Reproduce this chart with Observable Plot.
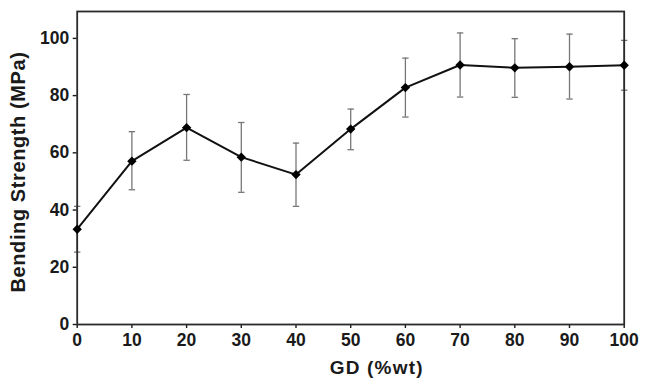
<!DOCTYPE html>
<html><head><meta charset="utf-8">
<script src="https://cdn.jsdelivr.net/npm/d3@7"></script>
<script src="https://cdn.jsdelivr.net/npm/@observablehq/plot@0.6"></script>
<style>
body{margin:0;background:#fff}
#chart svg{display:block;overflow:visible}
</style>
</head><body><div id="chart"></div>
<script>
const gdContent = [0, 10, 20, 30, 40, 50, 60, 70, 80, 90, 100];
const strength = [33.3, 57.1, 68.8, 58.5, 52.4, 68.3, 82.8, 90.7, 89.7, 90.1, 90.6];
const errLow = [25.3, 47.1, 57.4, 46.2, 41.3, 61.1, 72.5, 79.5, 79.4, 78.8, 81.9];
const errHigh = [41.3, 67.4, 80.4, 70.6, 63.4, 75.3, 93.1, 101.9, 99.9, 101.5, 99.3];
const xTicks = [0, 10, 20, 30, 40, 50, 60, 70, 80, 90, 100];
const yTicks = [0, 20, 40, 60, 80, 100];
const xTitle = "GD (%wt)";
const yTitle = "Bending Strength (MPa)";

const data = gdContent.map((g, i) => ({gd: g, s: strength[i], lo: errLow[i], hi: errHigh[i]}));

const diamond = {draw(ctx, size) {
  const r = Math.sqrt(size / Math.PI);
  ctx.moveTo(0, -r); ctx.lineTo(r, 0); ctx.lineTo(0, r); ctx.lineTo(-r, 0); ctx.closePath();
}};
const cap = {draw(ctx, size) {
  const r = Math.sqrt(size / Math.PI);
  ctx.moveTo(-r, 0); ctx.lineTo(r, 0);
}};

const font = "Liberation Sans, Arial, Helvetica, sans-serif";

const chart = Plot.plot({
  width: 646,
  height: 378,
  marginLeft: 76.7,
  marginRight: 22.3,
  marginTop: 11,
  marginBottom: 54,
  style: {fontFamily: font, fontWeight: "bold", fontSize: "17.5px", color: "#1a1a1a", background: "#fff"},
  x: {domain: [0, 100]},
  y: {domain: [0, 109.4]},
  marks: [
    Plot.axisX({ticks: xTicks, tickSize: 4, tickPadding: 5, label: null, fontSize: 17.5, fontWeight: "bold", strokeWidth: 1.4}),
    Plot.axisY({ticks: yTicks, tickSize: 4, tickPadding: 4, label: null, fontSize: 17.5, fontWeight: "bold", strokeWidth: 1.4}),
    Plot.ruleX(data, {x: "gd", y1: "lo", y2: "hi", stroke: "#777", strokeWidth: 1.3}),
    Plot.dot(data, {x: "gd", y: "lo", symbol: cap, r: 3.2, stroke: "#777", fill: "none", strokeWidth: 1.3}),
    Plot.dot(data, {x: "gd", y: "hi", symbol: cap, r: 3.2, stroke: "#777", fill: "none", strokeWidth: 1.3}),
    Plot.frame({stroke: "#2a2a2a", strokeWidth: 1.8}),
    Plot.line(data, {x: "gd", y: "s", stroke: "#111", strokeWidth: 2}),
    Plot.dot(data, {x: "gd", y: "s", symbol: diamond, r: 4.7, fill: "#000", stroke: "none"}),
    Plot.text([yTitle], {frameAnchor: "left", dx: -58.2, dy: 4, rotate: -90, text: d => d, fontSize: 20, fontWeight: "bold", fill: "#1a1a1a", textAnchor: "middle", lineAnchor: "middle"}),
    Plot.text([xTitle], {frameAnchor: "bottom", dx: 26, dy: 43, text: d => d, fontSize: 19, fontWeight: "bold", fill: "#1a1a1a", textAnchor: "middle", lineAnchor: "middle"})
  ]
});
document.getElementById("chart").appendChild(chart);
chart.querySelectorAll("text").forEach(t => {
  const txt = t.textContent;
  if (txt === xTitle) t.setAttribute("letter-spacing", "1.2");
  if (txt === yTitle) t.setAttribute("letter-spacing", "0.6");
});
</script>
</body></html>
